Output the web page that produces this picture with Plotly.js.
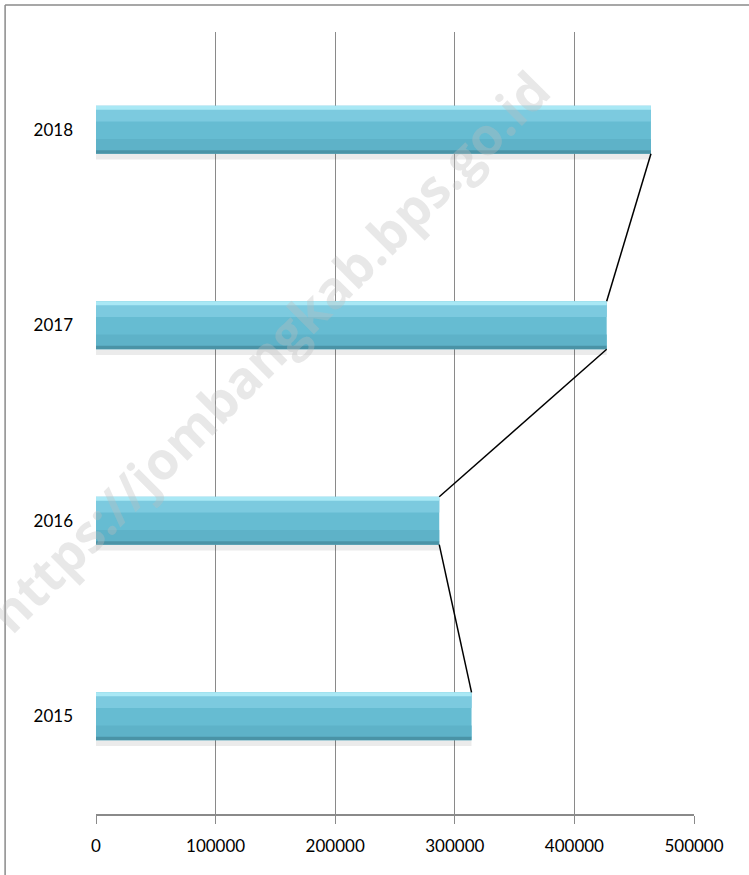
<!DOCTYPE html>
<html>
<head>
<meta charset="utf-8">
<script src="https://cdn.plot.ly/plotly-3.0.1.min.js"></script>
<style>html,body{margin:0;padding:0;background:#fff;}#chart{width:749px;height:875px;}</style>
</head>
<body>
<div id="chart"></div>
<script>
const years = ["2015", "2016", "2017", "2018"];
const values = [314000, 287000, 427000, 464000];
const xTicks = [0, 100000, 200000, 300000, 400000, 500000];

const pos = years.map((_, i) => i);
const W = 0.245;

function barTrace(width, offset, color) {
  return {
    type: 'bar', orientation: 'h', x: values, y: pos,
    width: width, offset: offset,
    marker: {color: color, line: {width: 0}},
    hoverinfo: 'skip', showlegend: false
  };
}

// series lines joining bar ends (top-right of lower bar to bottom-right of upper bar)
const lx = [], ly = [];
for (let i = 0; i < values.length - 1; i++) {
  lx.push(values[i], values[i + 1], null);
  ly.push(pos[i] + W / 2, pos[i + 1] - W / 2, null);
}

const traces = [
  barTrace(0.03, -W / 2 - 0.03, 'rgba(0,0,0,0.08)'),
  barTrace(W, -W / 2, '#66BCD2'),
  barTrace(0.07, W / 2 - 0.08, '#7CCADF'),
  barTrace(0.02, W / 2 - 0.02, '#A9E8F5'),
  barTrace(0.06, -W / 2 + 0.015, '#5EB2C8'),
  barTrace(0.018, -W / 2, '#4A93A6'),
  {type: 'scatter', mode: 'lines', x: lx, y: ly, line: {color: '#000', width: 1.5},
   hoverinfo: 'skip', showlegend: false}
];

const layout = {
  width: 749, height: 875,
  margin: {l: 96, r: 55, t: 32, b: 61},
  paper_bgcolor: '#fff', plot_bgcolor: '#fff',
  barmode: 'overlay',
  font: {family: 'Lato, "Open Sans", sans-serif', size: 17, color: '#000'},
  xaxis: {
    range: [0, 500000], tickvals: xTicks, ticktext: xTicks.map(String),
    showgrid: true, gridcolor: '#8a8a8a', gridwidth: 1,
    zeroline: false, showline: true, linecolor: '#8a8a8a', linewidth: 1.5,
    ticks: 'outside', ticklen: 8, tickcolor: '#8a8a8a', tickwidth: 1,
    ticklabelstandoff: 8, tickfont: {size: 17}, fixedrange: true
  },
  yaxis: {
    range: [-0.5, 3.5], tickvals: pos, ticktext: years,
    showgrid: false, zeroline: false, showline: false,
    ticks: '', ticklabelstandoff: 22, tickfont: {size: 17}, fixedrange: true
  },
  shapes: [
    {type: 'line', xref: 'paper', yref: 'paper', x0: -0.152, x1: 1.1, y0: 1.0345, y1: 1.0345,
     line: {color: '#8a8a8a', width: 1.5}},
    {type: 'line', xref: 'paper', yref: 'paper', x0: -0.152, x1: -0.152, y0: 1.0345, y1: -0.1,
     line: {color: '#8a8a8a', width: 1.5}}
  ],
  annotations: [{
    text: '<b>https://jombangkab.bps.go.id</b>', xref: 'paper', yref: 'paper',
    x: 0.288, y: 0.593, xanchor: 'center', yanchor: 'middle', showarrow: false, textangle: -45,
    font: {family: 'Open Sans, sans-serif', size: 52, color: 'rgba(190,190,190,0.35)'}
  }]
};

Plotly.newPlot('chart', traces, layout, {staticPlot: true, displayModeBar: false});
</script>
</body>
</html>
